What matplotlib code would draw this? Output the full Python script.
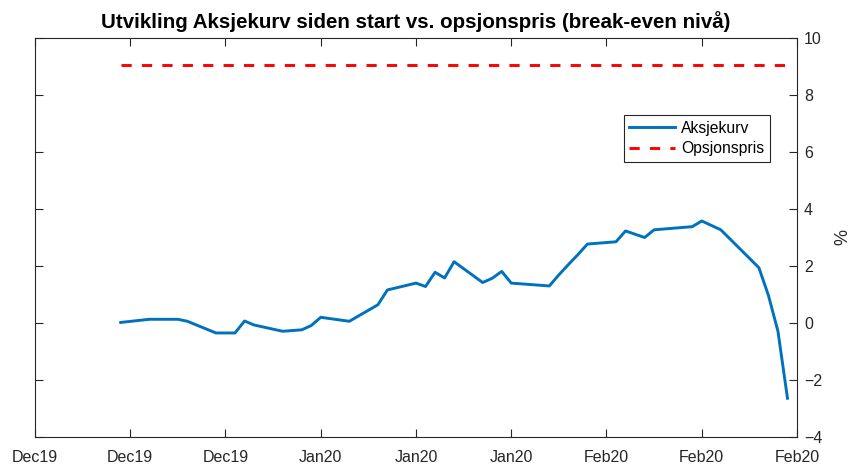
import pandas as pd
import numpy as np
import matplotlib
matplotlib.use("Agg")
import matplotlib.pyplot as plt
import matplotlib.dates as mdates

plt.rcParams['font.family'] = ['Liberation Sans', 'DejaVu Sans']

# data lest av bildet
datoer = ["2019-12-20", "2019-12-23", "2019-12-26", "2019-12-27", "2019-12-30",
          "2020-01-01", "2020-01-02", "2020-01-03", "2020-01-06", "2020-01-08",
          "2020-01-09", "2020-01-10", "2020-01-13", "2020-01-16", "2020-01-17",
          "2020-01-20", "2020-01-21", "2020-01-22", "2020-01-23", "2020-01-24",
          "2020-01-27", "2020-01-28", "2020-01-29", "2020-01-30", "2020-02-03",
          "2020-02-04", "2020-02-05", "2020-02-06", "2020-02-07", "2020-02-10",
          "2020-02-11", "2020-02-13", "2020-02-14", "2020-02-18", "2020-02-19",
          "2020-02-21", "2020-02-25", "2020-02-26", "2020-02-27", "2020-02-28"]
aksjekurv = [0.02, 0.13, 0.13, 0.06, -0.35, -0.35, 0.07, -0.07, -0.29, -0.24,
             -0.09, 0.20, 0.06, 0.64, 1.16, 1.40, 1.28, 1.78, 1.58, 2.15,
             1.42, 1.57, 1.81, 1.40, 1.30, 1.69, 2.05, 2.40, 2.77, 2.85,
             3.23, 3.00, 3.27, 3.38, 3.58, 3.27, 1.94, 0.97, -0.29, -2.64]
opsjonspris = 9.07

datoer = pd.to_datetime(datoer)
x_start = datoer[0] - pd.Timedelta(days=9)
x_slutt = datoer[-1] + pd.Timedelta(days=1)

fig = plt.figure(figsize=(8.51, 4.66), dpi=100)
ax = fig.add_axes([35 / 851, 1 - 437 / 466, 762 / 851, 399 / 466])

ax.plot(datoer, aksjekurv, color='#0072BD', lw=2.1, label='Aksjekurv')
ax.plot([datoer[0], datoer[-1]], [opsjonspris, opsjonspris], color='#FF0000',
        lw=2.1, linestyle=(0, (3.5, 3.5)), label='Opsjonspris')

ax.set_xlim(x_start, x_slutt)
ax.set_ylim(-4, 10)
ax.set_yticks(np.arange(-4, 11, 2))
ticks = np.linspace(mdates.date2num(x_start), mdates.date2num(x_slutt), 9)
ax.set_xticks(ticks)
ax.xaxis.set_major_formatter(mdates.DateFormatter('%b%y'))

grå = '#262626'
for s in ax.spines.values():
    s.set_color(grå)
    s.set_linewidth(0.8)
ax.tick_params(axis='both', which='both', direction='in', length=5.5, width=0.8,
               colors=grå, labelsize=11.5, top=True, bottom=True, left=True, right=True,
               labelleft=False, labelright=True)
ax.tick_params(axis='x', pad=9)
ax.tick_params(axis='y', pad=5)

ax.yaxis.set_label_position('right')
ax.set_ylabel('%', fontsize=13, color=grå, labelpad=9)
ax.set_title('Utvikling Aksjekurv siden start vs. opsjonspris (break-even nivå)',
             fontsize=14.8, fontweight='bold', pad=7)

leg = ax.legend(loc='upper right', bbox_to_anchor=(0.964, 0.806), fontsize=11.3,
                fancybox=False, framealpha=1, edgecolor=grå, handlelength=2.9,
                borderpad=0.35, labelspacing=0.35, handletextpad=0.4,
                borderaxespad=0)
leg.get_frame().set_linewidth(0.8)

plt.savefig('out.png', dpi=100)
